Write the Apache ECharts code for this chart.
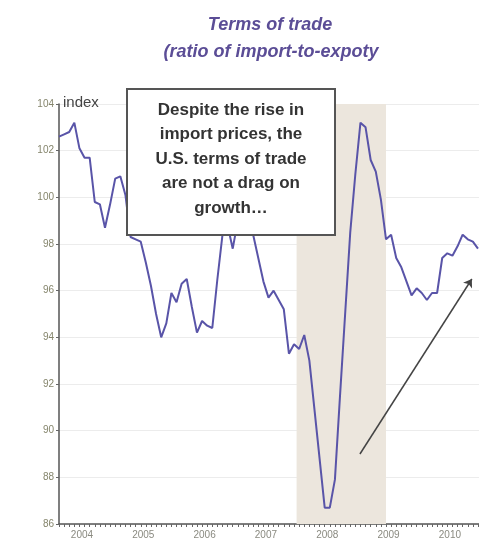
<!DOCTYPE html>
<html>
<head>
<meta charset="utf-8">
<script src="https://cdn.jsdelivr.net/npm/echarts@6/dist/echarts.min.js"></script>
<style>
html, body { margin: 0; padding: 0; background: #fff; }
#main { width: 479px; height: 540px; }
</style>
</head>
<body>
<div id="main"></div>
<script>
// monthly index values, Jan 2004 onward
var tradeIndex = [
    102.6, 102.7, 102.8, 103.2, 102.1, 101.7, 101.7, 99.8, 99.7, 98.7, 99.7, 100.8,
    100.9, 100.1, 98.3, 98.2, 98.1, 97.2, 96.2, 95.0, 94.0, 94.6, 95.9, 95.5,
    96.3, 96.5, 95.3, 94.2, 94.7, 94.5, 94.4, 96.5, 98.4, 98.8, 97.8, 99.0,
    99.2, 98.8, 98.4, 97.4, 96.4, 95.7, 96.0, 95.6, 95.2, 93.3, 93.7, 93.5,
    94.1, 93.0, 90.9, 88.8, 86.7, 86.7, 87.9, 91.5, 95.0, 98.5, 101.0, 103.2,
    103.0, 101.6, 101.1, 99.9, 98.2, 98.4, 97.4, 97.0, 96.4, 95.8, 96.1, 95.9,
    95.6, 95.9, 95.9, 97.4, 97.6, 97.5, 97.9, 98.4, 98.2, 98.1, 97.8
];
var yearLabels = ['2004', '2005', '2006', '2007', '2008', '2009', '2010'];
// shaded period, in months from Jan 2004
var recession = [46.5, 64];
// arrow from / to, [month, index]
var arrowFrom = [58.9, 89.0];
var arrowTo = [80.8, 96.5];
var noteLines = ['Despite the rise in', 'import prices, the', 'U.S. terms of trade', 'are not a drag on', 'growth\u2026'];

var lineData = tradeIndex.map(function (v, i) { return [i, v]; });
var labelPos = yearLabels.map(function (y, i) { return i * 12 + 4.5; });
var monthTicks = [];
for (var m = 0; m <= 82; m++) { monthTicks.push(m); }

var myChart = echarts.init(document.getElementById('main'));
myChart.setOption({
    backgroundColor: '#ffffff',
    animation: false,
    grid: { left: 59, right: 0, top: 104, bottom: 16 },
    xAxis: {
        type: 'value',
        min: 0,
        max: 82.2,
        interval: 12,
        axisLine: { lineStyle: { color: '#555', width: 1.5 } },
        axisTick: { customValues: monthTicks, length: 3, lineStyle: { color: '#666' } },
        axisLabel: {
            customValues: labelPos,
            color: '#8a8a80',
            fontSize: 10,
            margin: 6,
            fontFamily: 'Liberation Sans Narrow, Liberation Sans, sans-serif',
            formatter: function (v) { return yearLabels[Math.round((v - 4.5) / 12)]; }
        },
        splitLine: { show: false }
    },
    yAxis: {
        type: 'value',
        min: 86,
        max: 104,
        interval: 2,
        axisLine: { show: true, lineStyle: { color: '#555', width: 1.5 } },
        axisTick: { show: true, length: 3, lineStyle: { color: '#666' } },
        axisLabel: {
            color: '#85856c',
            fontSize: 10,
            margin: 5,
            fontFamily: 'Liberation Sans Narrow, Liberation Sans, sans-serif'
        },
        splitLine: { lineStyle: { color: '#ececec', width: 1 } }
    },
    series: [{
        type: 'line',
        data: lineData,
        symbol: 'none',
        z: 3,
        lineStyle: { color: '#5954a8', width: 2 },
        markArea: {
            silent: true,
            itemStyle: { color: '#ece6dd' },
            data: [[{ xAxis: recession[0] }, { xAxis: recession[1] }]]
        },
        markLine: {
            silent: true,
            symbol: ['none', 'arrow'],
            symbolSize: 8,
            label: { show: false },
            lineStyle: { color: '#444', width: 1.5, type: 'solid' },
            data: [[{ coord: arrowFrom }, { coord: arrowTo }]]
        }
    }],
    graphic: [
        {
            type: 'text', x: 270, y: 16, z: 100,
            style: {
                text: 'Terms of trade',
                align: 'center',
                fill: '#5b4d96',
                font: 'italic bold 18px "Liberation Sans", Arial, sans-serif'
            }
        },
        {
            type: 'text', x: 271, y: 43, z: 100,
            style: {
                text: '(ratio of import-to-expoty',
                align: 'center',
                fill: '#5b4d96',
                font: 'italic bold 18px "Liberation Sans", Arial, sans-serif'
            }
        },
        {
            type: 'text', x: 63, y: 95, z: 100,
            style: { text: 'index', fill: '#444', font: '15px "Liberation Sans", Arial, sans-serif' }
        },
        {
            type: 'rect', z: 100,
            shape: { x: 127, y: 89, width: 208, height: 146 },
            style: { fill: '#fff', stroke: '#555', lineWidth: 2 }
        },
        {
            type: 'text', x: 231, y: 98, z: 101,
            style: {
                text: noteLines.join('\n'),
                align: 'center',
                lineHeight: 24.5,
                fill: '#333',
                font: 'bold 17px "Liberation Sans", Arial, sans-serif'
            }
        }
    ]
});
</script>
</body>
</html>
